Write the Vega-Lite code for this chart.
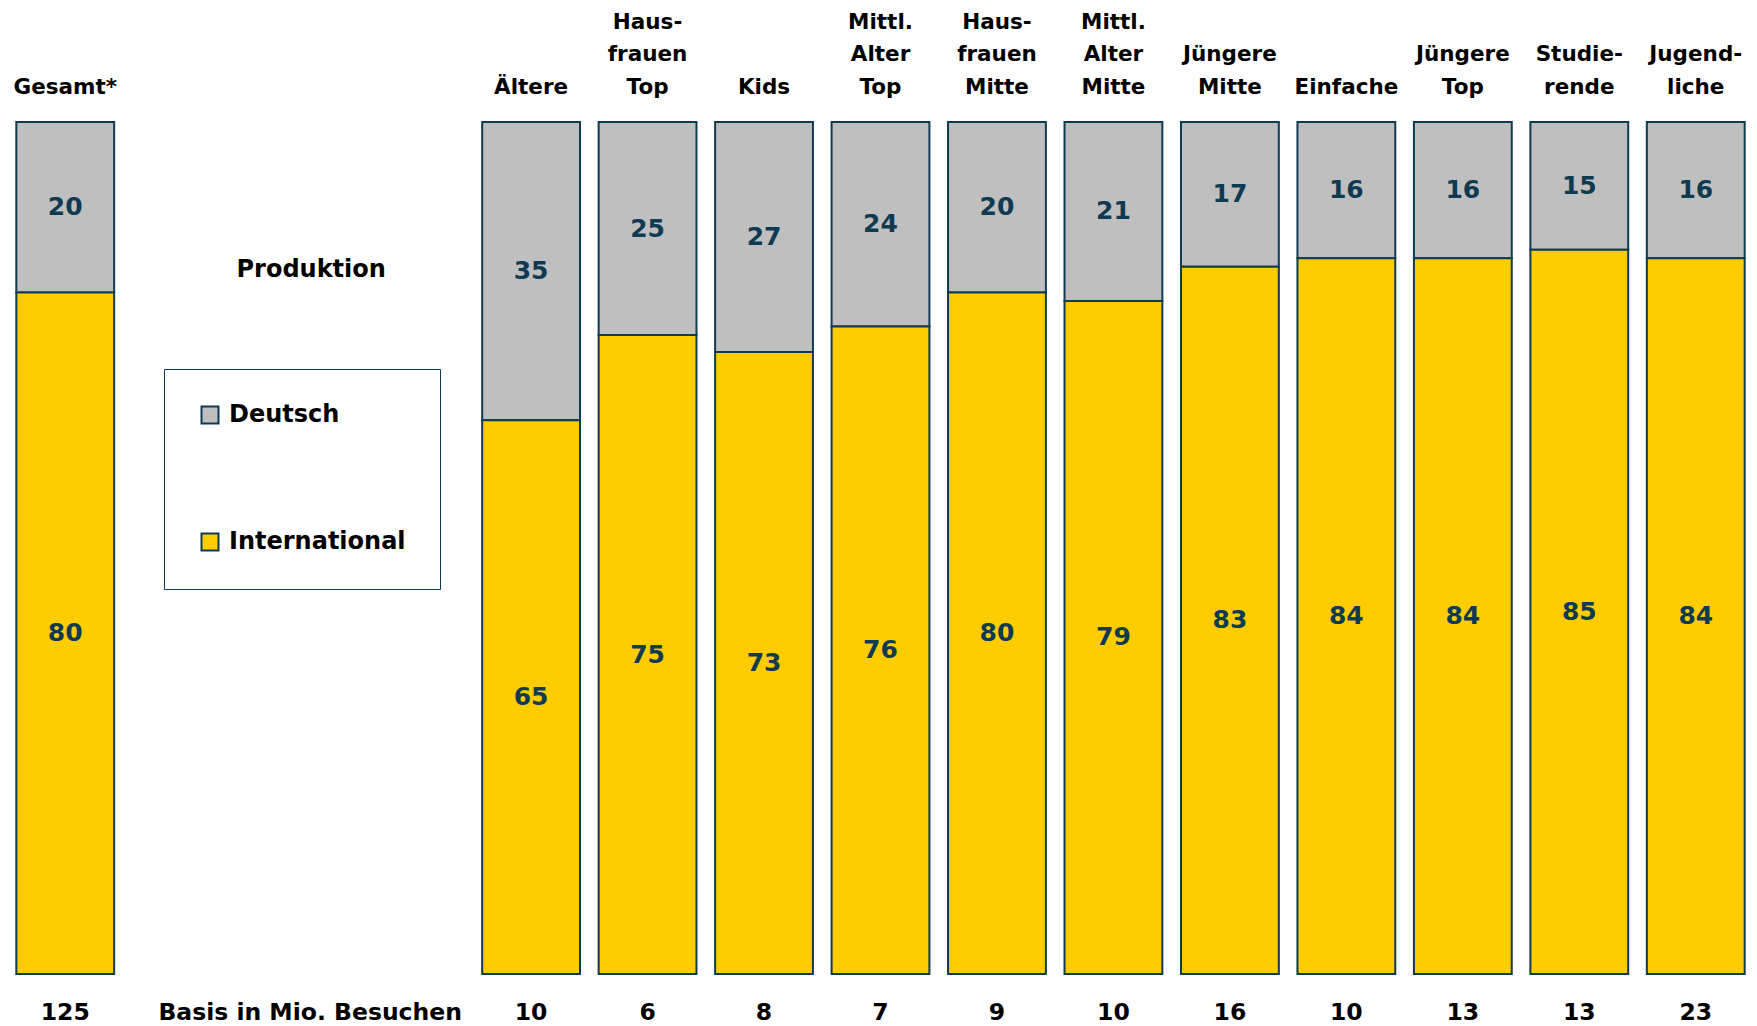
{
  "$schema": "https://vega.github.io/schema/vega-lite/v6.json",
  "width": 1747,
  "height": 852,
  "autosize": {"type": "none"},
  "padding": {"left": 7, "top": 122, "right": 3, "bottom": 52},
  "background": "white",
  "config": {
    "view": {"stroke": null},
    "font": "DejaVu Sans",
    "text": {"font": "DejaVu Sans", "fontWeight": "bold"}
  },
  "datasets": {
    "anteile": [
      {"kategorie": "Gesamt*", "herkunft": "Deutsch", "anteil": 20},
      {"kategorie": "Gesamt*", "herkunft": "International", "anteil": 80},
      {"kategorie": "Ältere", "herkunft": "Deutsch", "anteil": 35},
      {"kategorie": "Ältere", "herkunft": "International", "anteil": 65},
      {"kategorie": "Haus-|frauen|Top", "herkunft": "Deutsch", "anteil": 25},
      {"kategorie": "Haus-|frauen|Top", "herkunft": "International", "anteil": 75},
      {"kategorie": "Kids", "herkunft": "Deutsch", "anteil": 27},
      {"kategorie": "Kids", "herkunft": "International", "anteil": 73},
      {"kategorie": "Mittl.|Alter|Top", "herkunft": "Deutsch", "anteil": 24},
      {"kategorie": "Mittl.|Alter|Top", "herkunft": "International", "anteil": 76},
      {"kategorie": "Haus-|frauen|Mitte", "herkunft": "Deutsch", "anteil": 20},
      {"kategorie": "Haus-|frauen|Mitte", "herkunft": "International", "anteil": 80},
      {"kategorie": "Mittl.|Alter|Mitte", "herkunft": "Deutsch", "anteil": 21},
      {"kategorie": "Mittl.|Alter|Mitte", "herkunft": "International", "anteil": 79},
      {"kategorie": "Jüngere|Mitte", "herkunft": "Deutsch", "anteil": 17},
      {"kategorie": "Jüngere|Mitte", "herkunft": "International", "anteil": 83},
      {"kategorie": "Einfache", "herkunft": "Deutsch", "anteil": 16},
      {"kategorie": "Einfache", "herkunft": "International", "anteil": 84},
      {"kategorie": "Jüngere|Top", "herkunft": "Deutsch", "anteil": 16},
      {"kategorie": "Jüngere|Top", "herkunft": "International", "anteil": 84},
      {"kategorie": "Studie-|rende", "herkunft": "Deutsch", "anteil": 15},
      {"kategorie": "Studie-|rende", "herkunft": "International", "anteil": 85},
      {"kategorie": "Jugend-|liche", "herkunft": "Deutsch", "anteil": 16},
      {"kategorie": "Jugend-|liche", "herkunft": "International", "anteil": 84}
    ],
    "basis": [
      {"kategorie": "Gesamt*", "basis": "125"},
      {"kategorie": "Ältere", "basis": "10"},
      {"kategorie": "Haus-|frauen|Top", "basis": "6"},
      {"kategorie": "Kids", "basis": "8"},
      {"kategorie": "Mittl.|Alter|Top", "basis": "7"},
      {"kategorie": "Haus-|frauen|Mitte", "basis": "9"},
      {"kategorie": "Mittl.|Alter|Mitte", "basis": "10"},
      {"kategorie": "Jüngere|Mitte", "basis": "16"},
      {"kategorie": "Einfache", "basis": "10"},
      {"kategorie": "Jüngere|Top", "basis": "13"},
      {"kategorie": "Studie-|rende", "basis": "13"},
      {"kategorie": "Jugend-|liche", "basis": "23"}
    ],
    "basistitel": [
      {"kategorie": "_2", "text": "Basis in Mio. Besuchen"}
    ],
    "titel": [
      {"kategorie": "_2", "text": "Produktion"}
    ]
  },
  "layer": [
    {
      "data": {"name": "anteile"},
      "mark": {"type": "bar", "stroke": "#0E3A52", "strokeWidth": 2},
      "encoding": {
        "x": {
          "field": "kategorie",
          "type": "nominal",
          "sort": null,
          "scale": {
            "domain": ["Gesamt*", "_1", "_2", "_3", "Ältere", "Haus-|frauen|Top", "Kids", "Mittl.|Alter|Top", "Haus-|frauen|Mitte", "Mittl.|Alter|Mitte", "Jüngere|Mitte", "Einfache", "Jüngere|Top", "Studie-|rende", "Jugend-|liche"],
            "paddingInner": 0.16,
            "paddingOuter": 0.08
          },
          "axis": {
            "orient": "top",
            "title": null,
            "domain": false,
            "ticks": false,
            "labelAngle": 0,
            "labelPadding": 89,
            "labelFont": "DejaVu Sans",
            "labelFontWeight": "bold",
            "labelFontSize": 21.5,
            "labelColor": "#000000",
            "labelLineHeight": 32.5,
            "labelOverlap": false,
            "labelLimit": 300,
            "labelExpr": "indexof(datum.value, '_') == 0 ? '' : split(slice('\u200b|\u200b|' + datum.value, 2 * (length(split(datum.value, '|')) - 1)), '|')"
          }
        },
        "y": {
          "field": "anteil",
          "type": "quantitative",
          "stack": "zero",
          "scale": {"domain": [0, 100], "nice": false},
          "axis": null
        },
        "color": {
          "field": "herkunft",
          "type": "nominal",
          "scale": {"domain": ["Deutsch", "International"], "range": ["#BFBFBF", "#FFCC00"]},
          "legend": {
            "title": null,
            "orient": "none",
            "legendX": 157,
            "legendY": 247,
            "direction": "vertical",
            "strokeColor": "#0E3A52",
            "padding": 34,
            "rowPadding": 101,
            "symbolType": "square",
            "symbolSize": 289,
            "symbolStrokeColor": "#0E3A52",
            "symbolStrokeWidth": 2,
            "symbolOpacity": 1,
            "labelFont": "DejaVu Sans",
            "labelFontWeight": "bold",
            "labelFontSize": 24,
            "labelColor": "#000000",
            "labelOffset": 7,
            "labelLimit": 300
          }
        },
        "order": {"field": "herkunft", "sort": "descending"}
      }
    },
    {
      "data": {"name": "anteile"},
      "mark": {"type": "text", "fontSize": 25, "fontWeight": "bold", "color": "#0E3A52", "baseline": "middle", "align": "center"},
      "encoding": {
        "x": {"field": "kategorie", "type": "nominal", "sort": null},
        "y": {"field": "anteil", "type": "quantitative", "stack": "zero", "bandPosition": 0.5},
        "detail": {"field": "herkunft"},
        "order": {"field": "herkunft", "sort": "descending"},
        "text": {"field": "anteil", "type": "quantitative"}
      }
    },
    {
      "data": {"name": "basis"},
      "mark": {"type": "text", "fontSize": 23.5, "fontWeight": "bold", "color": "#000000", "baseline": "middle", "align": "center", "dy": 39},
      "encoding": {
        "x": {"field": "kategorie", "type": "nominal", "sort": null},
        "y": {"datum": 0, "type": "quantitative"},
        "text": {"field": "basis", "type": "nominal"}
      }
    },
    {
      "data": {"name": "basistitel"},
      "mark": {"type": "text", "fontSize": 23.5, "fontWeight": "bold", "color": "#000000", "baseline": "middle", "align": "center", "dy": 39, "dx": 12},
      "encoding": {
        "x": {"field": "kategorie", "type": "nominal", "sort": null},
        "y": {"datum": 0, "type": "quantitative"},
        "text": {"field": "text", "type": "nominal"}
      }
    },
    {
      "data": {"name": "titel"},
      "mark": {"type": "text", "fontSize": 24, "fontWeight": "bold", "color": "#000000", "baseline": "middle", "align": "center", "dx": 13},
      "encoding": {
        "x": {"field": "kategorie", "type": "nominal", "sort": null},
        "y": {"datum": 82.6, "type": "quantitative"},
        "text": {"field": "text", "type": "nominal"}
      }
    }
  ]
}
